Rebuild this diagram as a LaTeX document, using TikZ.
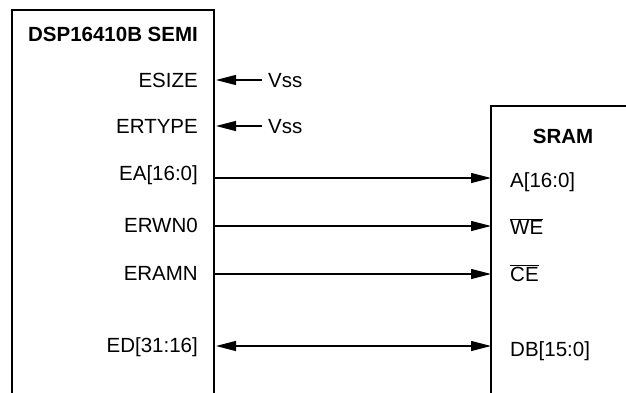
\documentclass[tikz,border=0pt]{standalone}
\usepackage{fontspec}
\setmainfont{Liberation Sans}
\usetikzlibrary{arrows.meta}

\begin{document}
\begin{tikzpicture}[
        x=1pt, y=-1pt,
        font=\fontsize{20.5}{24}\selectfont,
        box/.style={line width=1.6pt},
        title/.style={font=\fontsize{20.5}{24}\selectfont\bfseries, anchor=base, inner sep=0pt},
        pinl/.style={anchor=east, inner sep=0pt, text height=14.5pt, text depth=0pt},
        pinr/.style={anchor=west, inner sep=0pt, text height=14.5pt, text depth=0pt},
        sig/.style={line width=1.3pt, -{Triangle[length=20pt, width=10pt]}},
        bus/.style={line width=1.3pt, {Triangle[length=20pt, width=10pt]}-{Triangle[length=20pt, width=10pt]}}
    ]
    \useasboundingbox (0,0) rectangle (626,393);

    % DSP block (open at the bottom)
    \draw[box] (12,393) -- (12,10) -- (214,10) -- (214,393);
    \node[title] (dsp) at (113,42) {DSP16410B SEMI};

    % SRAM block (runs off the right and bottom)
    \draw[box] (626,106) -- (491,106) -- (491,393);
    \node[title] (sram) at (563,143) {SRAM};

    % DSP pin labels
    \foreach \n/\y/\t in {
        esize/80/ESIZE, ertype/126/ERTYPE, ea/173/EA[16:0],
        erwn/225/ERWN0, eramn/273/ERAMN, ed/345/ED[31:16]}
    {
        \node[pinl] (\n) at (198,\y) {\t};
    }

    % SRAM pin labels
    \node[pinr] (a)  at (510,180) {A[16:0]};
    \node[pinr] (we) at (510,227) {$\overline{\hbox{WE}}$};
    \node[pinr] (ce) at (510,274) {$\overline{\hbox{CE}}$};
    \node[pinr] (db) at (510,349) {DB[15:0]};

    % tie-offs to Vss
    \node[pinr, inner xsep=6pt] (vss1) at (262,80) {Vss};
    \node[pinr, inner xsep=6pt] (vss2) at (262,126) {Vss};

    % pin ends on the block edges
    \coordinate (dsp-esize)  at (216,80);
    \coordinate (dsp-ertype) at (216,126);
    \coordinate (dsp-ea)     at (214,178);
    \coordinate (dsp-erwn)   at (214,226);
    \coordinate (dsp-eramn)  at (214,274);
    \coordinate (dsp-ed)     at (216,346);
    \coordinate (sram-a)     at (491,178);
    \coordinate (sram-we)    at (491,226);
    \coordinate (sram-ce)    at (491,274);
    \coordinate (sram-db)    at (491,346);

    % connections
    \draw[sig] (vss1) -- (dsp-esize);
    \draw[sig] (vss2) -- (dsp-ertype);
    \draw[sig] (dsp-ea) -- (sram-a);
    \draw[sig] (dsp-erwn) -- (sram-we);
    \draw[sig] (dsp-eramn) -- (sram-ce);
    \draw[bus] (dsp-ed) -- (sram-db);

\end{tikzpicture}
\end{document}
